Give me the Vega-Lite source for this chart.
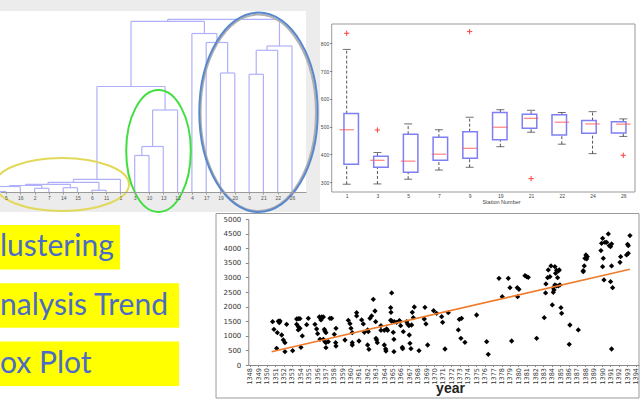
{
  "$schema": "https://vega.github.io/schema/vega-lite/v6.json",
  "width": 640,
  "height": 400,
  "autosize": {"type": "none"},
  "padding": 0,
  "background": "#ffffff",
  "config": {"view": {"stroke": null}, "axis": {"zindex": 1, "labelFont": "Liberation Sans", "titleFont": "Liberation Sans", "grid": false, "labelFlush": false, "labelOverlap": false}},
  "datasets": {
    "dendro": [
      {"id": "a", "xl": -1, "xr": 0, "hl": 0, "hr": 0, "h": 0.5},
      {"id": "b", "xl": -0.5, "xr": 1, "hl": 0.5, "hr": 0, "h": 5.5},
      {"id": "c", "xl": 2, "xr": 3, "hl": 0, "hr": 0, "h": 3.7},
      {"id": "d", "xl": 0.25, "xr": 2.5, "hl": 5.5, "hr": 3.7, "h": 6.5},
      {"id": "e", "xl": 4, "xr": 5, "hl": 0, "hr": 0, "h": 4.3},
      {"id": "f", "xl": 1.375, "xr": 4.5, "hl": 6.5, "hr": 4.3, "h": 7.7},
      {"id": "g", "xl": 6, "xr": 7, "hl": 0, "hr": 0, "h": 1.7},
      {"id": "h", "xl": 2.9375, "xr": 6.5, "hl": 7.7, "hr": 1.7, "h": 9.7},
      {"id": "i", "xl": 4.71875, "xr": 8, "hl": 9.7, "hr": 0, "h": 12.7},
      {"id": "j", "xl": 9, "xr": 10, "hl": 0, "hr": 0, "h": 36.5},
      {"id": "k", "xl": 9.5, "xr": 11, "hl": 36.5, "hr": 0, "h": 45.5},
      {"id": "l", "xl": 10.25, "xr": 12, "hl": 45.5, "hr": 0, "h": 82},
      {"id": "m", "xl": 6.359, "xr": 11.125, "hl": 12.7, "hr": 82, "h": 105.5},
      {"id": "n", "xl": 15, "xr": 16, "hl": 0, "hr": 0, "h": 119},
      {"id": "o", "xl": 14, "xr": 15.5, "hl": 0, "hr": 119, "h": 149.5},
      {"id": "p", "xl": 13, "xr": 14.75, "hl": 0, "hr": 149.5, "h": 158.5},
      {"id": "q", "xl": 8.742, "xr": 13.875, "hl": 105.5, "hr": 158.5, "h": 170.7},
      {"id": "r", "xl": 17, "xr": 18, "hl": 0, "hr": 0, "h": 117.7},
      {"id": "s", "xl": 17.5, "xr": 19, "hl": 117.7, "hr": 0, "h": 141.7},
      {"id": "t", "xl": 18.25, "xr": 20, "hl": 141.7, "hr": 0, "h": 146},
      {"id": "root", "xl": 11.309, "xr": 19.125, "hl": 170.7, "hr": 146, "h": 172.7}
    ],
    "clusters": [
      {"cluster": "shadow", "x": 17.64, "h": 79.2},
      {"cluster": "yellow", "x": 3.916, "h": 7.5},
      {"cluster": "green", "x": 10.665, "h": 41},
      {"cluster": "blue", "x": 17.658, "h": 79.7}
    ],
    "boxes": [
      {"station": "1", "pos": 0, "lo": 293, "q1": 365, "med": 489, "q3": 547, "hi": 778},
      {"station": "3", "pos": 1, "lo": 294, "q1": 354, "med": 379, "q3": 394, "hi": 407},
      {"station": "5", "pos": 2, "lo": 311, "q1": 336, "med": 376, "q3": 473, "hi": 510},
      {"station": "7", "pos": 3, "lo": 344, "q1": 379, "med": 401, "q3": 462, "hi": 489},
      {"station": "9", "pos": 4, "lo": 354, "q1": 386, "med": 422, "q3": 482, "hi": 534},
      {"station": "19", "pos": 5, "lo": 428, "q1": 453, "med": 498, "q3": 551, "hi": 561},
      {"station": "21", "pos": 6, "lo": 480, "q1": 494, "med": 530, "q3": 545, "hi": 559},
      {"station": "22", "pos": 7, "lo": 437, "q1": 470, "med": 516, "q3": 543, "hi": 551},
      {"station": "24", "pos": 8, "lo": 403, "q1": 476, "med": 510, "q3": 522, "hi": 554},
      {"station": "26", "pos": 9, "lo": 465, "q1": 477, "med": 509, "q3": 518, "hi": 528}
    ],
    "outliers": [
      {"pos": 0, "v": 836}, {"pos": 1, "v": 488}, {"pos": 4, "v": 842}, {"pos": 6, "v": 313}, {"pos": 9, "v": 397}
    ],
    "rain": [
      {"year": 1350.70, "v": 1485}, {"year": 1350.86, "v": 1222}, {"year": 1351.26, "v": 1108}, {"year": 1351.18, "v": 571},
      {"year": 1351.38, "v": 1500}, {"year": 1351.58, "v": 1510}, {"year": 1351.50, "v": 1450}, {"year": 1351.78, "v": 1028},
      {"year": 1351.98, "v": 856}, {"year": 1352.17, "v": 765}, {"year": 1352.17, "v": 457}, {"year": 1352.37, "v": 1393},
      {"year": 1353.09, "v": 491}, {"year": 1353.57, "v": 1575}, {"year": 1353.76, "v": 1587}, {"year": 1353.96, "v": 1587},
      {"year": 1353.57, "v": 1393}, {"year": 1353.76, "v": 1313}, {"year": 1353.96, "v": 1256}, {"year": 1353.76, "v": 1200},
      {"year": 1354.08, "v": 605}, {"year": 1354.24, "v": 994}, {"year": 1354.76, "v": 1382}, {"year": 1354.96, "v": 1599},
      {"year": 1355.75, "v": 1393}, {"year": 1355.95, "v": 1233}, {"year": 1356.07, "v": 1073}, {"year": 1356.27, "v": 1644},
      {"year": 1356.47, "v": 1542}, {"year": 1356.55, "v": 1644}, {"year": 1356.75, "v": 1644}, {"year": 1356.35, "v": 879},
      {"year": 1356.87, "v": 1222}, {"year": 1356.94, "v": 1165}, {"year": 1357.06, "v": 1108}, {"year": 1356.75, "v": 879},
      {"year": 1356.94, "v": 799}, {"year": 1357.06, "v": 765}, {"year": 1357.06, "v": 594}, {"year": 1357.34, "v": 799},
      {"year": 1357.54, "v": 1599}, {"year": 1357.74, "v": 1599}, {"year": 1358.06, "v": 1051}, {"year": 1358.26, "v": 1256},
      {"year": 1358.22, "v": 765}, {"year": 1358.26, "v": 651}, {"year": 1359.33, "v": 856}, {"year": 1359.73, "v": 1530},
      {"year": 1359.93, "v": 1416}, {"year": 1360.05, "v": 1256}, {"year": 1360.20, "v": 1108}, {"year": 1360.20, "v": 765},
      {"year": 1360.20, "v": 685}, {"year": 1360.72, "v": 1793}, {"year": 1360.72, "v": 1679}, {"year": 1361.00, "v": 822},
      {"year": 1361.32, "v": 1542}, {"year": 1361.52, "v": 1405}, {"year": 1361.64, "v": 1119}, {"year": 1362.03, "v": 1200},
      {"year": 1362.11, "v": 1142}, {"year": 1362.03, "v": 685}, {"year": 1362.19, "v": 537}, {"year": 1362.31, "v": 1599},
      {"year": 1362.51, "v": 1679}, {"year": 1362.71, "v": 2250}, {"year": 1362.91, "v": 1850}, {"year": 1362.99, "v": 1485},
      {"year": 1363.03, "v": 914}, {"year": 1363.11, "v": 856}, {"year": 1363.19, "v": 765}, {"year": 1363.62, "v": 1348},
      {"year": 1363.62, "v": 1188}, {"year": 1364.02, "v": 1188}, {"year": 1364.02, "v": 685}, {"year": 1364.18, "v": 548},
      {"year": 1364.22, "v": 480}, {"year": 1364.30, "v": 1233}, {"year": 1364.42, "v": 1188}, {"year": 1364.78, "v": 1964},
      {"year": 1364.82, "v": 1804}, {"year": 1364.90, "v": 2467}, {"year": 1364.78, "v": 1530}, {"year": 1364.90, "v": 1507},
      {"year": 1365.09, "v": 1119}, {"year": 1365.17, "v": 879}, {"year": 1365.17, "v": 457}, {"year": 1365.21, "v": 1485},
      {"year": 1365.49, "v": 1462}, {"year": 1365.81, "v": 1519}, {"year": 1365.89, "v": 1500}, {"year": 1365.97, "v": 1348},
      {"year": 1366.17, "v": 605}, {"year": 1366.21, "v": 560}, {"year": 1366.29, "v": 1142}, {"year": 1366.68, "v": 1485},
      {"year": 1366.80, "v": 1405}, {"year": 1366.96, "v": 1348}, {"year": 1367.00, "v": 1028}, {"year": 1367.08, "v": 742},
      {"year": 1367.20, "v": 560}, {"year": 1367.36, "v": 1804}, {"year": 1367.48, "v": 1622}, {"year": 1367.60, "v": 1987},
      {"year": 1367.28, "v": 1370}, {"year": 1368.16, "v": 491}, {"year": 1368.87, "v": 1976}, {"year": 1368.79, "v": 1576},
      {"year": 1368.99, "v": 1405}, {"year": 1369.19, "v": 685}, {"year": 1369.90, "v": 1861}, {"year": 1370.26, "v": 1770},
      {"year": 1370.86, "v": 1656}, {"year": 1370.98, "v": 1462}, {"year": 1371.26, "v": 548}, {"year": 1371.65, "v": 1793},
      {"year": 1372.85, "v": 1200}, {"year": 1372.97, "v": 1565}, {"year": 1373.24, "v": 1599}, {"year": 1373.16, "v": 914},
      {"year": 1373.64, "v": 777}, {"year": 1375.03, "v": 1713}, {"year": 1376.23, "v": 799}, {"year": 1376.42, "v": 365},
      {"year": 1377.70, "v": 2969}, {"year": 1378.09, "v": 2341}, {"year": 1378.81, "v": 2969}, {"year": 1379.01, "v": 2649},
      {"year": 1379.21, "v": 822}, {"year": 1379.88, "v": 2649}, {"year": 1380.08, "v": 2592}, {"year": 1379.92, "v": 2341},
      {"year": 1380.80, "v": 3060}, {"year": 1381.00, "v": 3026}, {"year": 1381.19, "v": 3003}, {"year": 1382.19, "v": 914},
      {"year": 1383.10, "v": 1622}, {"year": 1383.26, "v": 2467}, {"year": 1383.30, "v": 2775}, {"year": 1383.50, "v": 2992},
      {"year": 1383.58, "v": 3255}, {"year": 1383.78, "v": 3026}, {"year": 1383.90, "v": 3392}, {"year": 1384.06, "v": 2056},
      {"year": 1384.18, "v": 2649}, {"year": 1384.18, "v": 2490}, {"year": 1384.26, "v": 2570}, {"year": 1384.37, "v": 3369},
      {"year": 1384.45, "v": 3140}, {"year": 1384.57, "v": 3243}, {"year": 1384.69, "v": 2992}, {"year": 1384.77, "v": 3220},
      {"year": 1384.89, "v": 3255}, {"year": 1384.37, "v": 2741}, {"year": 1384.57, "v": 2707}, {"year": 1384.77, "v": 2707},
      {"year": 1384.97, "v": 2741}, {"year": 1385.09, "v": 1964}, {"year": 1385.17, "v": 1770}, {"year": 1386.16, "v": 1370},
      {"year": 1386.08, "v": 708}, {"year": 1387.16, "v": 1200}, {"year": 1387.75, "v": 3232}, {"year": 1387.75, "v": 3197},
      {"year": 1387.87, "v": 3392}, {"year": 1387.95, "v": 3654}, {"year": 1388.07, "v": 3769}, {"year": 1388.15, "v": 3631},
      {"year": 1388.23, "v": 3711}, {"year": 1389.86, "v": 3917}, {"year": 1389.94, "v": 4168}, {"year": 1390.06, "v": 4340},
      {"year": 1390.14, "v": 3654}, {"year": 1390.06, "v": 3369}, {"year": 1390.22, "v": 2912}, {"year": 1390.34, "v": 4202},
      {"year": 1390.54, "v": 4202}, {"year": 1390.74, "v": 4488}, {"year": 1390.85, "v": 4088}, {"year": 1391.01, "v": 4054},
      {"year": 1391.13, "v": 4145}, {"year": 1391.01, "v": 2855}, {"year": 1391.13, "v": 548}, {"year": 1391.13, "v": 3392},
      {"year": 1391.25, "v": 2649}, {"year": 1392.13, "v": 3517}, {"year": 1392.21, "v": 3711}, {"year": 1392.92, "v": 3769},
      {"year": 1393.12, "v": 3826}, {"year": 1393.04, "v": 4134}, {"year": 1393.12, "v": 4088}, {"year": 1393.32, "v": 4431}
    ],
    "trend": [{"year": 1350.58, "v": 457}, {"year": 1393.32, "v": 3277}],
    "labels": [
      {"label": "lustering", "start": 0, "len": 120},
      {"label": "nalysis Trend", "start": 0, "len": 179},
      {"label": "ox Plot", "start": 0, "len": 179}
    ]
  },
  "layer": [
    {
      "data": {"values": [{"x0": -0.42, "x1": 21.96, "y0": -20, "y1": 192}]},
      "mark": {"type": "rect", "fill": "#ececec"},
      "encoding": {
        "x": {"field": "x0", "type": "quantitative", "scale": {"type": "linear", "domain": [-0.42, 20.98], "range": [0, 306], "nice": false, "zero": false}, "axis": null},
        "x2": {"field": "x1"},
        "y": {"field": "y0", "type": "quantitative", "scale": {"type": "linear", "domain": [0, 180], "range": [192, 12], "nice": false, "zero": false}, "axis": null},
        "y2": {"field": "y1"}
      }
    },
    {
      "data": {"values": [{"x0": -0.42, "x1": 20.98, "y0": -1, "y1": 181}]},
      "mark": {"type": "rect", "fill": "#ffffff"},
      "encoding": {
        "x": {"field": "x0", "type": "quantitative", "scale": {"type": "linear", "domain": [-0.42, 20.98], "range": [0, 306], "nice": false, "zero": false}, "axis": null},
        "x2": {"field": "x1"},
        "y": {"field": "y0", "type": "quantitative", "scale": {"type": "linear", "domain": [0, 180], "range": [192, 12], "nice": false, "zero": false}, "axis": null},
        "y2": {"field": "y1"}
      }
    },
    {
      "data": {"name": "dendro"},
      "mark": {"type": "rule", "color": "#b0b0fa", "strokeWidth": 1.2},
      "encoding": {
        "x": {"field": "xl", "type": "quantitative", "scale": {"type": "linear", "domain": [-0.42, 20.98], "range": [0, 306], "nice": false, "zero": false},
          "axis": {"orient": "bottom", "offset": -208, "values": [0,1,2,3,4,5,6,7,8,9,10,11,12,13,14,15,16,17,18,19,20],
            "labelExpr": "['5','16','2','7','14','15','6','11','1','3','10','13','12','4','17','19','20','9','21','22','26'][datum.value]",
            "title": null, "domain": true, "domainColor": "#9a9a9a", "ticks": true, "tickSize": 2, "tickColor": "#9a9a9a",
            "labelFontSize": 5, "labelColor": "#555555", "labelPadding": 1, "zindex": 1}},
        "x2": {"field": "xr"},
        "y": {"field": "h", "type": "quantitative", "scale": {"type": "linear", "domain": [0, 180], "range": [192, 12], "nice": false, "zero": false}, "axis": null}
      }
    },
    {
      "data": {"name": "dendro"},
      "mark": {"type": "rule", "color": "#b0b0fa", "strokeWidth": 1.2},
      "encoding": {
        "x": {"field": "xl", "type": "quantitative", "scale": {"type": "linear", "domain": [-0.42, 20.98], "range": [0, 306], "nice": false, "zero": false}, "axis": null},
        "y": {"field": "hl", "type": "quantitative", "scale": {"type": "linear", "domain": [0, 180], "range": [192, 12], "nice": false, "zero": false}, "axis": null},
        "y2": {"field": "h"}
      }
    },
    {
      "data": {"name": "dendro"},
      "mark": {"type": "rule", "color": "#b0b0fa", "strokeWidth": 1.2},
      "encoding": {
        "x": {"field": "xr", "type": "quantitative", "scale": {"type": "linear", "domain": [-0.42, 20.98], "range": [0, 306], "nice": false, "zero": false}, "axis": null},
        "y": {"field": "hr", "type": "quantitative", "scale": {"type": "linear", "domain": [0, 180], "range": [192, 12], "nice": false, "zero": false}, "axis": null},
        "y2": {"field": "h"}
      }
    },
    {
      "data": {"name": "clusters"},
      "mark": {"type": "point", "filled": false, "size": 40000, "strokeWidth": 2, "opacity": 1},
      "encoding": {
        "x": {"field": "x", "type": "quantitative", "scale": {"type": "linear", "domain": [-0.42, 20.98], "range": [0, 306], "nice": false, "zero": false}, "axis": null},
        "y": {"field": "h", "type": "quantitative", "scale": {"type": "linear", "domain": [0, 180], "range": [192, 12], "nice": false, "zero": false}, "axis": null},
        "shape": {"field": "cluster", "type": "nominal", "legend": null, "scale": {"domain": ["shadow", "yellow", "green", "blue"], "range": [
          "M -0.577 0 C -0.577 -0.5423 -0.3187 -0.982 0 -0.982 C 0.3187 -0.982 0.577 -0.5423 0.577 0 C 0.577 0.5423 0.3187 0.982 0 0.982 C -0.3187 0.982 -0.577 0.5423 -0.577 0 Z",
          "M -0.67 0 C -0.67 -0.1464 -0.37 -0.265 0 -0.265 C 0.37 -0.265 0.67 -0.1464 0.67 0 C 0.67 0.1464 0.37 0.265 0 0.265 C -0.37 0.265 -0.67 0.1464 -0.67 0 Z",
          "M -0.323 0 C -0.323 -0.3369 -0.1784 -0.61 0 -0.61 C 0.1784 -0.61 0.323 -0.3369 0.323 0 C 0.323 0.3369 0.1784 0.61 0 0.61 C -0.1784 0.61 -0.323 0.3369 -0.323 0 Z",
          "M -0.592 0 C -0.592 -0.5506 -0.327 -0.997 0 -0.997 C 0.327 -0.997 0.592 -0.5506 0.592 0 C 0.592 0.5506 0.327 0.997 0 0.997 C -0.327 0.997 -0.592 0.5506 -0.592 0 Z"
        ]}},
        "stroke": {"field": "cluster", "type": "nominal", "legend": null, "scale": {"domain": ["shadow", "yellow", "green", "blue"], "range": ["#b0b0b0", "#e2d85a", "#3fdf3f", "#5a88cc"]}}
      }
    },
    {
      "data": {"values": [{"x0": -0.488, "x1": 9.381, "y0": 265, "y1": 869.4}]},
      "mark": {"type": "rect", "fill": "#ffffff", "stroke": "#999999", "strokeWidth": 1},
      "encoding": {
        "x": {"field": "x0", "type": "quantitative", "scale": {"type": "linear", "domain": [-0.488, 9.381], "range": [331.7, 635], "nice": false, "zero": false}, "axis": null},
        "x2": {"field": "x1"},
        "y": {"field": "y0", "type": "quantitative", "scale": {"type": "linear", "domain": [265, 869.4], "range": [192, 24], "nice": false, "zero": false}, "axis": null},
        "y2": {"field": "y1"}
      }
    },
    {
      "data": {"name": "boxes"},
      "mark": {"type": "rule", "color": "#555555", "strokeWidth": 1, "strokeDash": [3, 2]},
      "encoding": {
        "x": {"field": "pos", "type": "quantitative", "scale": {"type": "linear", "domain": [-0.488, 9.381], "range": [331.7, 635], "nice": false, "zero": false},
          "axis": {"orient": "bottom", "offset": -208, "values": [0,1,2,3,4,5,6,7,8,9],
            "labelExpr": "['1','3','5','7','9','19','21','22','24','26'][datum.value]",
            "title": "Station Number", "titleFontSize": 5.5, "titleFontWeight": "normal", "titleColor": "#444444", "titleX": 501, "titleY": 9, "titleBaseline": "middle", "titleAlign": "center",
            "domain": false, "ticks": false, "labelFontSize": 5, "labelColor": "#444444", "labelPadding": 1.5, "zindex": 1}},
        "y": {"field": "lo", "type": "quantitative", "scale": {"type": "linear", "domain": [265, 869.4], "range": [192, 24], "nice": false, "zero": false},
          "axis": {"orient": "left", "offset": -331.7, "values": [300, 400, 500, 600, 700, 800], "title": null, "domain": false, "ticks": true, "tickSize": 2, "tickColor": "#777777",
            "labelFontSize": 5, "labelColor": "#444444", "labelPadding": 1, "zindex": 1}},
        "y2": {"field": "q1"}
      }
    },
    {
      "data": {"name": "boxes"},
      "mark": {"type": "rule", "color": "#555555", "strokeWidth": 1, "strokeDash": [3, 2]},
      "encoding": {
        "x": {"field": "pos", "type": "quantitative", "scale": {"type": "linear", "domain": [-0.488, 9.381], "range": [331.7, 635], "nice": false, "zero": false}, "axis": null},
        "y": {"field": "q3", "type": "quantitative", "scale": {"type": "linear", "domain": [265, 869.4], "range": [192, 24], "nice": false, "zero": false}, "axis": null},
        "y2": {"field": "hi"}
      }
    },
    {
      "data": {"name": "boxes"},
      "mark": {"type": "tick", "orient": "horizontal", "size": 8, "thickness": 1, "color": "#333333"},
      "encoding": {
        "x": {"field": "pos", "type": "quantitative", "scale": {"type": "linear", "domain": [-0.488, 9.381], "range": [331.7, 635], "nice": false, "zero": false}, "axis": null},
        "y": {"field": "lo", "type": "quantitative", "scale": {"type": "linear", "domain": [265, 869.4], "range": [192, 24], "nice": false, "zero": false}, "axis": null}
      }
    },
    {
      "data": {"name": "boxes"},
      "mark": {"type": "tick", "orient": "horizontal", "size": 8, "thickness": 1, "color": "#333333"},
      "encoding": {
        "x": {"field": "pos", "type": "quantitative", "scale": {"type": "linear", "domain": [-0.488, 9.381], "range": [331.7, 635], "nice": false, "zero": false}, "axis": null},
        "y": {"field": "hi", "type": "quantitative", "scale": {"type": "linear", "domain": [265, 869.4], "range": [192, 24], "nice": false, "zero": false}, "axis": null}
      }
    },
    {
      "data": {"name": "boxes"},
      "mark": {"type": "bar", "orient": "vertical", "size": 14.5, "fill": "#ffffff", "stroke": "#7f7ff5", "strokeWidth": 1.5},
      "encoding": {
        "x": {"field": "pos", "type": "quantitative", "scale": {"type": "linear", "domain": [-0.488, 9.381], "range": [331.7, 635], "nice": false, "zero": false}, "axis": null},
        "y": {"field": "q1", "type": "quantitative", "scale": {"type": "linear", "domain": [265, 869.4], "range": [192, 24], "nice": false, "zero": false}, "axis": null},
        "y2": {"field": "q3"}
      }
    },
    {
      "data": {"name": "boxes"},
      "mark": {"type": "tick", "orient": "horizontal", "size": 14.5, "thickness": 1.3, "color": "#ff5a5a"},
      "encoding": {
        "x": {"field": "pos", "type": "quantitative", "scale": {"type": "linear", "domain": [-0.488, 9.381], "range": [331.7, 635], "nice": false, "zero": false}, "axis": null},
        "y": {"field": "med", "type": "quantitative", "scale": {"type": "linear", "domain": [265, 869.4], "range": [192, 24], "nice": false, "zero": false}, "axis": null}
      }
    },
    {
      "data": {"name": "outliers"},
      "mark": {"type": "point", "shape": "M -1 0 L 1 0 M 0 -1 L 0 1", "filled": false, "size": 28, "stroke": "#ff4040", "strokeWidth": 1, "opacity": 1},
      "encoding": {
        "x": {"field": "pos", "type": "quantitative", "scale": {"type": "linear", "domain": [-0.488, 9.381], "range": [331.7, 635], "nice": false, "zero": false}, "axis": null},
        "y": {"field": "v", "type": "quantitative", "scale": {"type": "linear", "domain": [265, 869.4], "range": [192, 24], "nice": false, "zero": false}, "axis": null}
      }
    },
    {
      "data": {"values": [{"x0": 1343.95, "x1": 1394.4, "y0": -1130, "y1": 5188}]},
      "mark": {"type": "rect", "fill": "#ffffff", "stroke": "#9a9a9a", "strokeWidth": 1},
      "encoding": {
        "x": {"field": "x0", "type": "quantitative", "scale": {"type": "linear", "domain": [1347.8, 1394.4], "range": [248.3, 639], "nice": false, "zero": false}, "axis": null},
        "x2": {"field": "x1"},
        "y": {"field": "y0", "type": "quantitative", "scale": {"type": "linear", "domain": [0, 5000], "range": [365, 219], "nice": false, "zero": false}, "axis": null},
        "y2": {"field": "y1"}
      }
    },
    {
      "data": {"name": "rain"},
      "mark": {"type": "point", "shape": "diamond", "filled": true, "size": 28, "color": "#000000", "opacity": 1},
      "encoding": {
        "x": {"field": "year", "type": "quantitative", "scale": {"type": "linear", "domain": [1347.8, 1394.4], "range": [248.3, 639], "nice": false, "zero": false},
          "axis": {"orient": "bottom", "offset": -35, "values": [1348,1349,1350,1351,1352,1353,1354,1355,1356,1357,1358,1359,1360,1361,1362,1363,1364,1365,1366,1367,1368,1369,1370,1371,1372,1373,1374,1375,1376,1377,1378,1379,1380,1381,1382,1383,1384,1385,1386,1387,1388,1389,1390,1391,1392,1393,1394],
            "format": "d", "labelAngle": -90, "labelFontSize": 6.5, "labelFont": "DejaVu Sans", "labelColor": "#333333", "labelPadding": 1,
            "ticks": true, "tickSize": 1.5, "tickColor": "#888888", "domain": true, "domainColor": "#888888",
            "title": "year", "titleFontSize": 14, "titleFontWeight": "bold", "titleColor": "#222222", "titleX": 450, "titleY": 27.5, "titleBaseline": "alphabetic", "titleAlign": "center", "zindex": 1}},
        "y": {"field": "v", "type": "quantitative", "scale": {"type": "linear", "domain": [0, 5000], "range": [365, 219], "nice": false, "zero": false},
          "axis": {"orient": "left", "offset": -248.3, "values": [0,500,1000,1500,2000,2500,3000,3500,4000,4500,5000], "format": "d", "title": null,
            "domain": true, "domainColor": "#888888", "ticks": true, "tickSize": 3, "tickColor": "#888888",
            "labelFontSize": 7, "labelFont": "DejaVu Sans", "labelColor": "#333333", "labelPadding": 4.5, "zindex": 1}}
      }
    },
    {
      "data": {"name": "trend"},
      "mark": {"type": "line", "color": "#f07b2a", "strokeWidth": 1.6},
      "encoding": {
        "x": {"field": "year", "type": "quantitative", "scale": {"type": "linear", "domain": [1347.8, 1394.4], "range": [248.3, 639], "nice": false, "zero": false}, "axis": null},
        "y": {"field": "v", "type": "quantitative", "scale": {"type": "linear", "domain": [0, 5000], "range": [365, 219], "nice": false, "zero": false}, "axis": null}
      }
    },
    {
      "data": {"name": "labels"},
      "mark": {"type": "rect", "fill": "#ffff00"},
      "encoding": {
        "x": {"field": "start", "type": "quantitative", "scale": {"type": "linear", "domain": [0, 215], "range": [0, 215], "nice": false, "zero": false}, "axis": null},
        "x2": {"field": "len"},
        "y": {"field": "label", "type": "nominal", "sort": null, "scale": {"type": "band", "domain": ["lustering", "nalysis Trend", "ox Plot"], "range": [225, 386], "paddingInner": 0.236, "paddingOuter": 0}, "axis": null}
      }
    },
    {
      "data": {"name": "labels"},
      "mark": {"type": "text", "font": "Lato", "fontSize": 30, "color": "#4a6cc6", "align": "left", "baseline": "alphabetic", "dy": 9, "dx": 0},
      "encoding": {
        "x": {"field": "start", "type": "quantitative", "scale": {"type": "linear", "domain": [0, 215], "range": [0, 215], "nice": false, "zero": false}, "axis": null},
        "y": {"field": "label", "type": "nominal", "sort": null, "scale": {"type": "band", "domain": ["lustering", "nalysis Trend", "ox Plot"], "range": [225, 386], "paddingInner": 0.236, "paddingOuter": 0}, "axis": null},
        "text": {"field": "label", "type": "nominal"}
      }
    }
  ],
  "resolve": {
    "scale": {"x": "independent", "y": "independent", "shape": "independent", "stroke": "independent"},
    "axis": {"x": "independent", "y": "independent"}
  }
}
